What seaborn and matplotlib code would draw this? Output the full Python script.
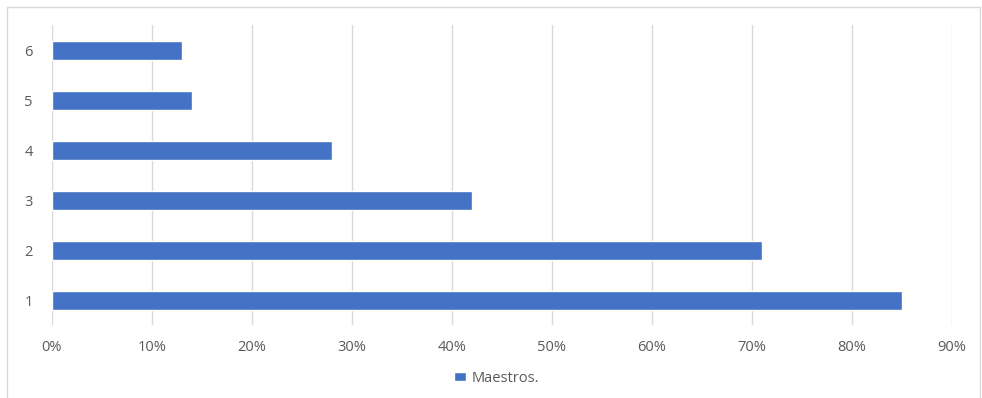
import pandas as pd
import matplotlib
matplotlib.use("Agg")
import matplotlib.pyplot as plt
from matplotlib.patches import Rectangle
from matplotlib.ticker import PercentFormatter
import seaborn as sns

# data
categorias = ["1", "2", "3", "4", "5", "6"]
maestros = [85, 71, 42, 28, 14, 13]

df = pd.DataFrame({"Categoria": categorias, "Porcentaje": maestros})

sns.set_style("white")
plt.rcParams["font.family"] = ["Open Sans", "DejaVu Sans"]

fig = plt.figure(figsize=(9.82, 3.98), dpi=100)
ax = fig.add_axes([52 / 982, 73 / 398, 900 / 982, 300 / 398])

sns.barplot(
    data=df,
    x="Porcentaje",
    y="Categoria",
    order=categorias[::-1],
    orient="h",
    color="#4472C4",
    saturation=1,
    width=0.38,
    label="Maestros.",
    ax=ax,
)

ax.set_xlim(0, 90)
ax.set_ylim(5.5, -0.5)
ax.set_xticks(range(0, 91, 10))
ax.xaxis.set_major_formatter(PercentFormatter(decimals=0))
ax.grid(axis="x", color="#D9D9D9", linewidth=1)
ax.set_axisbelow(True)
for s in ax.spines.values():
    s.set_visible(False)
ax.set_xlabel("")
ax.set_ylabel("")
ax.tick_params(axis="both", length=0, labelsize=10.5, colors="#595959")
ax.tick_params(axis="x", pad=11)
ax.tick_params(axis="y", pad=14)

leg = ax.legend(
    loc="center",
    bbox_to_anchor=(497 / 982, 20 / 398),
    bbox_transform=fig.transFigure,
    frameon=False,
    fontsize=10.5,
    handlelength=0.8,
    handleheight=0.6,
    handletextpad=0.4,
)
for t in leg.get_texts():
    t.set_color("#595959")

# chart frame
fig.patches.append(Rectangle((7 / 982, -0.05), 973 / 982, 1.05 - 7 / 398,
                             transform=fig.transFigure, fill=False,
                             edgecolor="#D9D9D9", linewidth=1))

fig.savefig("out.png", dpi=100)
